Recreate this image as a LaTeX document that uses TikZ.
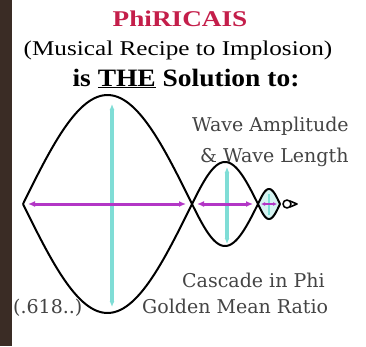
\documentclass[tikz,border=0pt]{standalone}
\usepackage{fontspec}
\setmainfont{Liberation Serif}
\newfontfamily\slabfont{DejaVu Serif}
\usepackage{tikz}
\usetikzlibrary{arrows.meta,positioning}
\definecolor{phired}{HTML}{C41E4A}
\definecolor{ampcyan}{HTML}{7FDDD6}
\definecolor{lencyan}{HTML}{D6F4F2}
\definecolor{lenmag}{HTML}{B336C6}
\definecolor{stripbg}{HTML}{3A2C25}
\definecolor{labgray}{HTML}{444444}

\begin{document}
\begin{tikzpicture}[x=1pt,y=-1pt,
  wave/.style={draw=black,line width=2pt,line join=round},
  amp/.style={{Latex[length=6pt,width=5pt]}-{Latex[length=6pt,width=5pt]},
               draw=ampcyan,line width=3.2pt},
  lenarr/.style={{Latex[length=7pt,width=6pt]}-{Latex[length=7pt,width=6pt]},
               draw=lenmag,line width=3pt},
  headtxt/.style={inner sep=0pt,anchor=base},
  labtxt/.style={font=\slabfont\fontsize{19}{19}\selectfont,text=labgray,
               inner sep=0pt,anchor=base west}
]
\useasboundingbox (0,0) rectangle (366,346);
\fill[white] (0,0) rectangle (366,346);
\fill[stripbg] (0,0) rectangle (12,346);

% headings
\node[headtxt,text=phired,font=\bfseries\fontsize{22.5}{22.5}\selectfont,xscale=1.21]
  (title) at (180,26) {PhiRICAIS};
\node[headtxt,font=\fontsize{21}{21}\selectfont,xscale=1.2]
  (recipe) at (178,55) {(Musical Recipe to Implosion)};
\node[headtxt,font=\bfseries\fontsize{25}{25}\selectfont,xscale=1.1]
  (solution) at (186,86) {is \underline{THE} Solution to:};

% tips of the lobes
\coordinate (n0) at (23,204);
\coordinate (n1) at (192,204);
\coordinate (n2) at (258,204);
\coordinate (n3) at (280,204);

% small lobe shading
\fill[lencyan] plot[domain=258:280,samples=30] (\x,{204-15*sin((\x-258)/22*180)})
  -- plot[domain=280:258,samples=30] (\x,{204+15*sin((\x-258)/22*180)}) -- cycle;

% amplitudes
\draw[amp] (112,104) -- (112,307);
\draw[amp] (227,167) -- (227,244);
\draw[ampcyan,line width=2pt] (269,194) -- (269,215);

% wave lengths
\draw[lenarr] ([xshift=5pt]n0) -- ([xshift=-6pt]n1);
\draw[lenarr] ([xshift=5pt]n1) -- ([xshift=-5pt]n2);
\draw[lenarr,{Latex[length=4pt,width=4pt]}-{Latex[length=4pt,width=4pt]},line width=2.2pt]
  ([xshift=3pt]n2) -- ([xshift=-3pt]n3);

% the lobes
\foreach \a/\b/\h in {23/192/109,192/258/42,258/280/15}{
  \draw[wave] plot[domain=\a:\b,samples=60] (\x,{204-\h*sin((\x-\a)/(\b-\a)*180)});
  \draw[wave] plot[domain=\a:\b,samples=60] (\x,{204+\h*sin((\x-\a)/(\b-\a)*180)});
}
\draw[wave,line width=1.6pt] (287,204) circle (4);
\draw[wave,line width=1.6pt] (290,201) -- (297,204) -- (290,207);

% labels
\node[labtxt] (amptxt) at (192,131) {Wave Amplitude};
\node[labtxt] (lentxt) at (200,162) {\& Wave Length};
\node[labtxt] (cascade) at (182,287) {Cascade in Phi};
\node[labtxt] (golden) at (142,313) {Golden Mean Ratio};
\node[labtxt] (ratio) at (13,313) {(.618..)};
\end{tikzpicture}
\end{document}
